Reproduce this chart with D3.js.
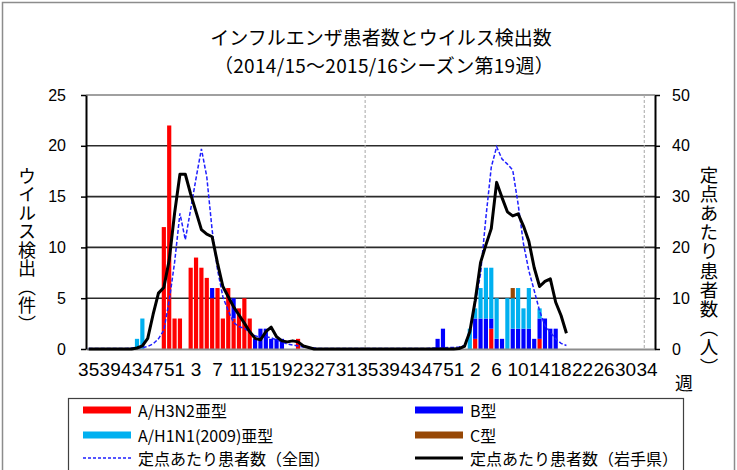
<!DOCTYPE html>
<html>
<head>
<meta charset="utf-8">
<script src="https://cdn.jsdelivr.net/npm/d3@7"></script>
<style>
  body { margin: 0; background: #fff; }
  .jp { font-family: "Noto Sans CJK JP", sans-serif; }
  .num { font-family: "Liberation Sans", Arial, sans-serif; }
</style>
</head>
<body>
<svg id="chart"></svg>
<script>
// week numbers: 2014/15 season (52 weeks), 2015/16 season (53 weeks), one empty slot
const weeks = [35,36,37,38,39,40,41,42,43,44,45,46,47,48,49,50,51,52,1,2,3,4,5,6,7,8,9,10,11,12,13,14,15,16,17,18,19,20,21,22,23,24,25,26,27,28,29,30,31,32,33,34,
  35,36,37,38,39,40,41,42,43,44,45,46,47,48,49,50,51,52,53,1,2,3,4,5,6,7,8,9,10,11,12,13,14,15,16,17,18,19,20,21,22,23,24,25,26,27,28,29,30,31,32,33,34,
  ""];

// virus detections (count)
const h3n2 = [
  0,0,0,0,0,0,0,0,0,0,
  0,0,0,0,12,22,3,3,0,8,
  9,8,7,5,6,3,6,3,4,5,
  3,0,0,0,0,0,0,0,0,1,
  0,0,0,0,0,0,0,0,0,0,
  0,0,0,0,0,0,0,0,0,0,
  0,0,0,0,0,0,0,0,0,0,
  0,0,1,0,0,2,0,0,0,0,
  0,0,0,0,1,0,0,0,0,0,
  0,0,0,0,0,0,0,0,0,0,
  0,0,0,0,0,0];
const typeB = [
  0,0,0,0,0,0,0,0,0,0,
  0,0,0,0,0,0,0,0,0,0,
  0,0,0,1,0,0,0,2,0,0,
  0,1,2,2,1,1,1,0,0,0,
  0,0,0,0,0,0,0,0,0,0,
  0,0,0,0,0,0,0,0,0,0,
  0,0,0,0,0,1,2,0,0,0,
  0,0,2,3,3,1,1,1,0,2,
  2,2,2,1,2,3,2,2,0,0,
  0,0,0,0,0,0,0,0,0,0,
  0,0,0,0,0,0];
const h1n1 = [
  0,0,0,0,0,0,0,0,0,1,
  3,0,0,0,0,0,0,0,0,0,
  0,0,0,0,0,0,0,0,0,0,
  0,0,0,0,0,0,0,0,0,0,
  0,0,0,0,0,0,0,0,0,0,
  0,0,0,0,0,0,0,0,0,0,
  0,0,0,0,0,0,0,0,0,0,
  0,2,1,3,5,5,4,0,5,3,
  4,2,4,0,1,0,0,0,0,0,
  0,0,0,0,0,0,0,0,0,0,
  0,0,0,0,0,0];
const typeC = [
  0,0,0,0,0,0,0,0,0,0,
  0,0,0,0,0,0,0,0,0,0,
  0,0,0,0,0,0,0,0,0,0,
  0,0,0,0,0,0,0,0,0,0,
  0,0,0,0,0,0,0,0,0,0,
  0,0,0,0,0,0,0,0,0,0,
  0,0,0,0,0,0,0,0,0,0,
  0,0,0,0,0,0,0,0,0,1,
  0,0,0,0,0,0,0,0,0,0,
  0,0,0,0,0,0,0,0,0,0,
  0,0,0,0,0,0];

// patients per sentinel site
const national = [
  0.1,0.1,0.1,0.1,0.1,0.1,0.1,0.1,0.2,0.2,
  0.3,0.5,1.0,2.0,3.7,9.5,17.0,26.7,21.5,27.5,
  33.6,39.4,33.9,23.4,15.6,10.3,7.5,5.2,4.4,4.1,
  3.3,2.6,2.3,2.4,2.2,1.8,1.4,1.0,0.8,0.6,
  0.4,0.3,0.2,0.1,0.1,0.1,0.1,0.1,0.1,0.1,
  0.1,0.1,0.1,0.1,0.1,0.1,0.1,0.1,0.1,0.1,
  0.1,0.1,0.1,0.1,0.2,0.2,0.2,0.3,0.3,0.4,
  0.7,3.6,8.9,14.8,25.9,35.8,39.8,37.4,36.4,35.2,
  28.5,20.7,15.4,11.5,7.5,4.6,3.3,2.0,1.1,0.7,
  null,null,null,null,null,null,null,null,null,null,
  null,null,null,null,null,null];
const iwate = [
  0,0,0,0,0,0,0,0,0,0.2,
  0.6,2.1,6.8,11.0,12.1,17.5,26.7,34.4,34.4,30.5,
  27.0,23.5,22.6,22.1,16.9,12.3,10.3,8.3,6.7,5.1,
  3.4,2.1,1.8,3.4,4.3,2.4,1.6,1.4,1.6,1.4,
  0.6,0.3,0,0,0,0,0,0,0,0,
  0,0,0,0,0,0,0,0,0,0,
  0,0,0,0,0,0,0,0,0,0.1,
  0.5,3.4,9.5,17.0,20.5,23.7,32.8,29.8,27.0,26.2,
  26.6,24.2,21.2,16.0,12.3,13.3,13.8,9.2,6.6,3.1,
  null,null,null,null,null,null,null,null,null,null,
  null,null,null,null,null,null];

const leftTicks = [0,5,10,15,20,25];
const rightTicks = [0,10,20,30,40,50];
const seasonBreaks = [52, 104];

const barSeries = [
  {key: "h3n2", name: "A/H3N2亜型", values: h3n2, color: "#ff0000"},
  {key: "b", name: "B型", values: typeB, color: "#0000ff"},
  {key: "h1n1", name: "A/H1N1(2009)亜型", values: h1n1, color: "#00b0f0"},
  {key: "c", name: "C型", values: typeC, color: "#974806"}
];

const W = 737, H = 470;
const pLeft = 86, pRight = 655, pTop = 95, pBottom = 349;

const svg = d3.select("#chart").attr("width", W).attr("height", H);

// outer frame
svg.append("rect")
  .attr("x", 2.5).attr("y", 2.5).attr("width", W - 5).attr("height", H + 10)
  .attr("fill", "none").attr("stroke", "#8c8c8c").attr("stroke-width", 1.5);

const x = d3.scaleBand()
  .domain(d3.range(weeks.length))
  .range([pLeft, pRight])
  .paddingInner(0.22)
  .paddingOuter(0.11);

const yL = d3.scaleLinear().domain([0, 25]).range([pBottom, pTop]);
const yR = d3.scaleLinear().domain([0, 50]).range([pBottom, pTop]);

// horizontal gridlines
svg.append("g")
  .selectAll("line")
  .data(leftTicks.filter(d => d > 0))
  .join("line")
    .attr("x1", pLeft).attr("x2", pRight)
    .attr("y1", d => yL(d)).attr("y2", d => yL(d))
    .attr("stroke", d => d === 25 ? "#808080" : "#2b2b2b")
    .attr("stroke-width", 1.6);

// season separators
svg.append("g")
  .selectAll("line")
  .data(seasonBreaks)
  .join("line")
    .attr("x1", d => pLeft + d * x.step()).attr("x2", d => pLeft + d * x.step())
    .attr("y1", pTop).attr("y2", pBottom)
    .attr("stroke", "#a6a6a6")
    .attr("stroke-width", 1)
    .attr("stroke-dasharray", "3,2");

// stacked bars
const rows = weeks.map((w, i) => {
  const r = {i: i};
  barSeries.forEach(s => r[s.key] = s.values[i]);
  return r;
});
const stacked = d3.stack().keys(barSeries.map(s => s.key))(rows);

svg.append("g")
  .selectAll("g")
  .data(stacked)
  .join("g")
    .attr("fill", (d, k) => barSeries[k].color)
  .selectAll("rect")
  .data(d => d.filter(p => p[1] > p[0]))
  .join("rect")
    .attr("x", d => x(d.data.i))
    .attr("width", x.bandwidth())
    .attr("y", d => yL(d[1]))
    .attr("height", d => yL(d[0]) - yL(d[1]));

// axes
const xAxis = svg.append("g")
  .attr("transform", `translate(0,${pBottom})`)
  .call(d3.axisBottom(x)
    .tickValues(d3.range(0, 105, 4))
    .tickFormat(i => weeks[i])
    .tickSize(0)
    .tickPadding(14));
xAxis.select(".domain").attr("stroke", "#8c8c8c").attr("stroke-width", 2);
xAxis.selectAll("text").attr("class", "num").attr("fill", "#000")
  .style("font-size", "19px");

const yAxisL = svg.append("g")
  .attr("transform", `translate(${pLeft},0)`)
  .call(d3.axisLeft(yL).tickValues(leftTicks).tickSize(5).tickSizeOuter(0).tickPadding(15));
yAxisL.select(".domain").attr("stroke", "#000").attr("stroke-width", 2);
yAxisL.selectAll(".tick line").attr("stroke", "#000").attr("stroke-width", 1.5);
yAxisL.selectAll("text").attr("class", "num").attr("fill", "#000")
  .style("font-size", "16px");

const yAxisR = svg.append("g")
  .attr("transform", `translate(${pRight},0)`)
  .call(d3.axisRight(yR).tickValues(rightTicks).tickSize(5).tickSizeOuter(0).tickPadding(12));
yAxisR.select(".domain").attr("stroke", "#000").attr("stroke-width", 2);
yAxisR.selectAll(".tick line").attr("stroke", "#000").attr("stroke-width", 1.5);
yAxisR.selectAll("text").attr("class", "num").attr("fill", "#000")
  .style("font-size", "16px");

// lines
const line = d3.line()
  .defined(d => d != null)
  .x((d, i) => x(i) + x.bandwidth() / 2)
  .y(d => yR(d));

svg.append("path")
  .datum(national)
  .attr("d", line)
  .attr("fill", "none")
  .attr("stroke", "#1f1fff")
  .attr("stroke-width", 1.5)
  .attr("stroke-dasharray", "4,2");

svg.append("path")
  .datum(iwate)
  .attr("d", line)
  .attr("fill", "none")
  .attr("stroke", "#000")
  .attr("stroke-width", 3)
  .attr("stroke-linejoin", "round");

// titles
svg.append("text").attr("class", "jp")
  .attr("x", 381).attr("y", 45)
  .attr("text-anchor", "middle").style("font-size", "19px")
  .text("インフルエンザ患者数とウイルス検出数");
svg.append("text").attr("class", "jp")
  .attr("x", 384).attr("y", 73)
  .attr("text-anchor", "middle").style("font-size", "19px")
  .style("letter-spacing", "0.3px")
  .text("（2014/15～2015/16シーズン第19週）");

// vertical axis titles
svg.append("text").attr("class", "jp")
  .attr("x", 27).attr("y", 250)
  .attr("text-anchor", "middle")
  .style("writing-mode", "vertical-rl")
  .style("font-size", "18px")
  .style("letter-spacing", "0.5px")
  .text("ウイルス検出（件）");
svg.append("text").attr("class", "jp")
  .attr("x", 709).attr("y", 271)
  .attr("text-anchor", "middle")
  .style("writing-mode", "vertical-rl")
  .style("font-size", "18.5px")
  .style("letter-spacing", "0.7px")
  .text("定点あたり患者数（人）");

svg.append("text").attr("class", "jp")
  .attr("x", 684).attr("y", 390)
  .attr("text-anchor", "middle").style("font-size", "18px")
  .text("週");

// legend
const lg = svg.append("g");
lg.append("rect")
  .attr("x", 68.5).attr("y", 398.5).attr("width", 615).attr("height", 90)
  .attr("fill", "#fff").attr("stroke", "#404040").attr("stroke-width", 1.2);

const legendItems = [
  {name: barSeries[0].name, color: barSeries[0].color, kind: "bar", col: 0, row: 0},
  {name: barSeries[1].name, color: barSeries[1].color, kind: "bar", col: 1, row: 0},
  {name: barSeries[2].name, color: barSeries[2].color, kind: "bar", col: 0, row: 1},
  {name: barSeries[3].name, color: barSeries[3].color, kind: "bar", col: 1, row: 1},
  {name: "定点あたり患者数（全国）", color: "#1f1fff", kind: "dash", col: 0, row: 2},
  {name: "定点あたり患者数（岩手県）", color: "#000", kind: "line", col: 1, row: 2}
];
const colX = [83, 415];
const rowY = [410, 435, 458];

const li = lg.selectAll("g.item")
  .data(legendItems)
  .join("g")
    .attr("class", "item")
    .attr("transform", d => `translate(${colX[d.col]},${rowY[d.row]})`);

li.filter(d => d.kind === "bar").append("rect")
  .attr("x", 0).attr("y", -3.5).attr("width", 48).attr("height", 7)
  .attr("fill", d => d.color);
li.filter(d => d.kind !== "bar").append("line")
  .attr("x1", 0).attr("x2", 48).attr("y1", 0).attr("y2", 0)
  .attr("stroke", d => d.color)
  .attr("stroke-width", d => d.kind === "line" ? 3 : 1.5)
  .attr("stroke-dasharray", d => d.kind === "dash" ? "3,2" : null);
li.append("text").attr("class", "jp")
  .attr("x", 55).attr("y", 0)
  .attr("dominant-baseline", "central")
  .style("font-size", "16px")
  .text(d => d.name);
</script>
</body>
</html>
